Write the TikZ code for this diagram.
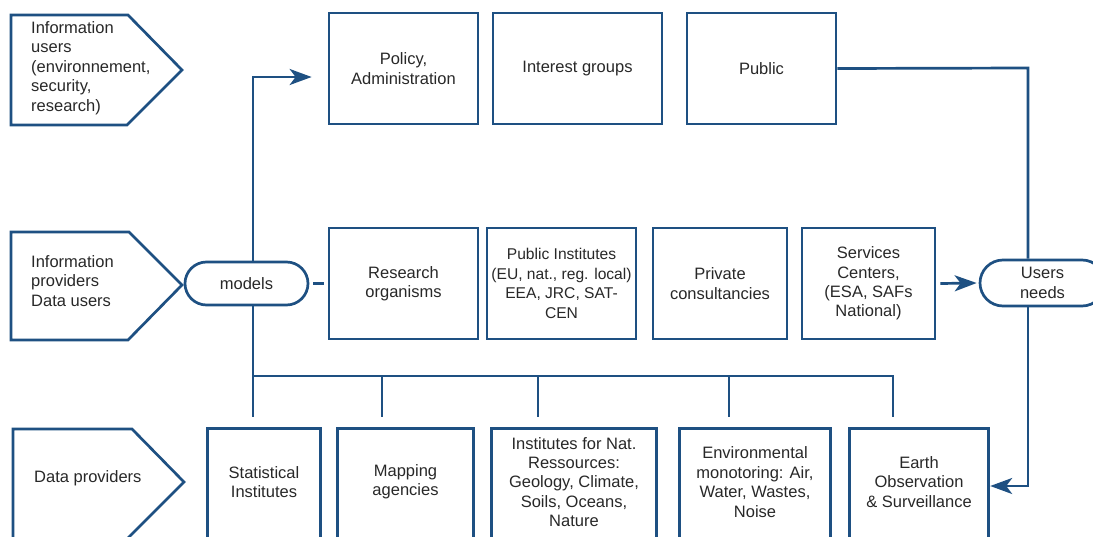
\documentclass[tikz,border=0pt]{standalone}
\usepackage{fontspec}
\setmainfont{Liberation Sans}
\usetikzlibrary{arrows.meta,calc}
\definecolor{dblue}{RGB}{30,80,130}
\definecolor{txtc}{RGB}{40,40,40}
\newcommand\dfont{\fontsize{16.5}{19.4}\selectfont}
\newcommand\dfontsmall{\fontsize{15.6}{19.4}\selectfont}
\begin{document}
\begin{tikzpicture}[x=1pt,y=-1pt,
  ln/.style={draw=dblue, line width=2.7pt},
  conn/.style={draw=dblue, line width=2.7pt},
  arr/.style={-{Stealth[length=22pt,width=16pt,inset=6pt]}},
  box/.style={draw=dblue, line width=2.7pt, fill=white, inner sep=0pt, align=center, text=txtc, font=\dfont},
  btext/.style={inner sep=0pt, align=center, text=txtc, font=\dfont, minimum height=106pt},
  lbl/.style={inner sep=0pt, align=left, text=txtc, font=\dfont, anchor=west}]
\useasboundingbox (0,0) rectangle (1093,536);
\clip (0,0) rectangle (1093,536);
\fill[white] (0,0) rectangle (1093,536);

% left pentagons
\draw[ln, fill=white] (11,15) -- (128,15) -- (182,70) -- (127,125) -- (11,125) -- cycle;
\node[lbl] (iu) at (31,68) {Information\\users\\(environnement,\\security,\\research)};
\draw[ln, fill=white] (11,232) -- (129,232) -- (182,285) -- (128,340) -- (11,340) -- cycle;
\node[lbl] (ip) at (31,281) {Information\\providers\\Data users};
\draw[ln, fill=white] (13,560) -- (13,429) -- (132,429) -- (184,482) -- (120,546);
\node[lbl] (dp) at (34,478) {Data providers};

% top row
\node[box, minimum width=149pt, minimum height=111pt] (pol) at (403.5,68.5) {Policy,\\Administration};
\node[box, minimum width=169pt, minimum height=111pt] (int) at (577.5,68.5) {Interest groups};
\node[box, minimum width=149pt, minimum height=111pt] (pub) at (761.5,68.5) {Public};

% middle row
\node[box, rounded corners=21.5pt, minimum width=123pt, minimum height=43pt] (mod) at (246.5,283.5) {models};
\node[box, minimum width=149pt, minimum height=111pt] (res) at (403.5,283.5) {Research\\organisms};
\node[box, font=\dfontsmall, minimum width=149pt, minimum height=111pt] (pin) at (561.5,283.5) {Public Institutes\\(EU, nat., reg. local)\\EEA, JRC, SAT-\\CEN};
\node[box, minimum width=134pt, minimum height=111pt] (pri) at (720,283.5) {Private\\consultancies};
\node[box, minimum width=133pt, minimum height=111pt] (ser) at (868.5,283.5) {Services\\Centers,\\(ESA, SAFs\\National)};
\node[box, rounded corners=23pt, minimum width=125pt, minimum height=46pt] (un) at (1042.5,283) {Users\\needs};

% bottom row
\node[btext, minimum width=112pt] (sta) at (264,482) {Statistical\\Institutes};
\node[btext, minimum width=135pt] (map) at (405.5,482) {Mapping\\agencies};
\node[btext, minimum width=164pt] (ins) at (574,482) {Institutes for Nat.\\Ressources:\\Geology, Climate,\\Soils, Oceans,\\Nature};
\node[btext, minimum width=150pt] (env) at (755,482) {Environmental\\monotoring: Air,\\Water, Wastes,\\Noise};
\node[btext, minimum width=138pt] (ear) at (919,482) {Earth\\Observation\\\& Surveillance};
\foreach \n in {sta,map,ins,env,ear}
  \draw[ln] ($(\n.south west)+(0,30)$) -- (\n.north west) -- (\n.north east) -- ($(\n.south east)+(0,30)$);

% coordinates
\coordinate (up) at (253,77);
\coordinate (b1) at (253,376);
\coordinate (b2) at (382,376);
\coordinate (b3) at (538,376);
\coordinate (b4) at (729,376);
\coordinate (b5) at (893,376);
\coordinate (rc) at (1028,68);

% connectors
\draw[conn,arr] (mod.north -| up) -- (up) -- ($(pol.west |- up)+(-16,0)$);
\draw[conn] ($(mod.east)+(4,0)$) -- ($(res.west)+(-4,0)$);
\draw[conn,arr] ($(ser.east)+(4,0)$) -- ($(un.west)+(-2,0)$);
\draw[conn] (pub.east) -- (rc) -- (rc |- un.north);
\draw[conn,arr] (rc |- un.south) |- ($(ear.east)+(2,4)$);
\draw[conn] (mod.south -| b1) -- ($(b1 |- sta.north)+(0,-12)$);
\draw[conn] (b1) -- (b5) -- ($(b5 |- ear.north)+(0,-12)$);
\draw[conn] (b2) -- ($(b2 |- map.north)+(0,-12)$);
\draw[conn] (b3) -- ($(b3 |- ins.north)+(0,-12)$);
\draw[conn] (b4) -- ($(b4 |- env.north)+(0,-12)$);
\end{tikzpicture}
\end{document}
